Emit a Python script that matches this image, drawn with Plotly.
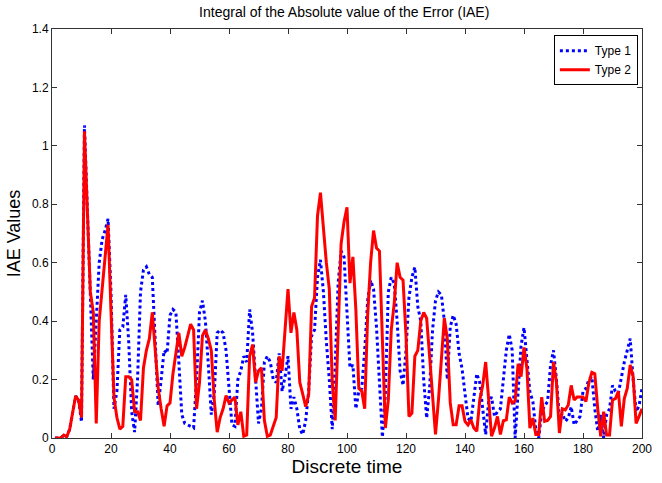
import plotly.graph_objects as go

# Discrete time instants and IAE values for the two controller types
time_steps = list(range(1, 201))

type1_iae = [
    0.0, 0.0, 0.0, 0.01, 0.005, 0.03, 0.09, 0.144, 0.13, 0.055,
    1.07, 0.8, 0.5, 0.2, 0.4, 0.6, 0.68, 0.71, 0.75, 0.5,
    0.1, 0.16, 0.37, 0.38, 0.49, 0.33, 0.09, 0.02, 0.2, 0.5,
    0.575, 0.586, 0.56, 0.55, 0.33, 0.11, 0.2, 0.3, 0.29, 0.42,
    0.44, 0.43, 0.26, 0.08, 0.05, 0.045, 0.04, 0.035, 0.2, 0.43,
    0.47, 0.4, 0.25, 0.08, 0.15, 0.36, 0.37, 0.36, 0.3, 0.17,
    0.045, 0.04, 0.2, 0.23, 0.28, 0.26, 0.44, 0.36, 0.2, 0.05,
    0.1, 0.26, 0.28, 0.26, 0.2, 0.19, 0.29, 0.16, 0.21, 0.28,
    0.1, 0.14, 0.1, 0.03, 0.012, 0.06, 0.16, 0.35, 0.37, 0.55,
    0.61, 0.5, 0.33, 0.2, 0.03, 0.25, 0.53, 0.64, 0.62, 0.45,
    0.24, 0.25, 0.1, 0.16, 0.17, 0.3, 0.47, 0.54, 0.51, 0.38,
    0.2, 0.003, 0.15, 0.5, 0.55, 0.53, 0.4, 0.23, 0.18, 0.3,
    0.48, 0.55, 0.585, 0.45, 0.4, 0.2, 0.068, 0.17, 0.37, 0.47,
    0.5, 0.49, 0.4, 0.2, 0.38, 0.42, 0.39, 0.29, 0.237, 0.158,
    0.068, 0.057, 0.13, 0.22, 0.19, 0.09, 0.012, 0.125, 0.14, 0.074,
    0.09, 0.1, 0.2, 0.3, 0.355, 0.3, 0.0, 0.17, 0.315, 0.378,
    0.28, 0.158, 0.125, 0.03, 0.0, 0.09, 0.11, 0.125, 0.25, 0.3,
    0.2, 0.068, 0.085, 0.057, 0.068, 0.107, 0.045, 0.06, 0.074, 0.16,
    0.17, 0.2, 0.21, 0.1, 0.023, 0.08, 0.0, 0.08, 0.1, 0.18,
    0.16, 0.153, 0.21, 0.26, 0.3, 0.34, 0.2, 0.09, 0.11, 0.17,
]

type2_iae = [
    0.0, 0.0, 0.0, 0.01, 0.005, 0.03, 0.09, 0.144, 0.13, 0.07,
    1.05, 0.78, 0.5, 0.43, 0.05, 0.4, 0.5, 0.62, 0.73, 0.4,
    0.14, 0.07, 0.03, 0.04, 0.21, 0.21, 0.2, 0.09, 0.09, 0.06,
    0.24, 0.3, 0.34, 0.43, 0.3, 0.17, 0.1, 0.04, 0.11, 0.12,
    0.22, 0.3, 0.36, 0.28, 0.31, 0.35, 0.39, 0.37, 0.1, 0.19,
    0.35, 0.37, 0.34, 0.3, 0.13, 0.02, 0.07, 0.1, 0.145, 0.12,
    0.13, 0.14, 0.045, 0.09, 0.006, 0.01, 0.28, 0.32, 0.19, 0.23,
    0.24, 0.06, 0.006, 0.01, 0.04, 0.07, 0.28, 0.23, 0.37, 0.51,
    0.36, 0.43, 0.37, 0.19, 0.15, 0.107, 0.147, 0.45, 0.48, 0.76,
    0.84, 0.71, 0.6, 0.51, 0.19, 0.06, 0.33, 0.665, 0.74, 0.79,
    0.53, 0.62, 0.44, 0.17, 0.16, 0.1, 0.42, 0.6, 0.71, 0.65,
    0.64, 0.37, 0.034, 0.13, 0.37, 0.46, 0.6, 0.55, 0.54, 0.35,
    0.074, 0.085, 0.28, 0.3, 0.4, 0.43, 0.41, 0.28, 0.15, 0.012,
    0.13, 0.28, 0.41, 0.34, 0.12, 0.045, 0.045, 0.11, 0.11, 0.057,
    0.045, 0.062, 0.034, 0.023, 0.13, 0.18, 0.26, 0.135, 0.006, 0.034,
    0.074, 0.012, 0.059, 0.062, 0.14, 0.12, 0.127, 0.254, 0.21, 0.31,
    0.237, 0.034, 0.068, 0.012, 0.012, 0.14, 0.057, 0.06, 0.074, 0.26,
    0.19, 0.017, 0.1, 0.096, 0.113, 0.18, 0.13, 0.14, 0.14, 0.14,
    0.125, 0.19, 0.225, 0.22, 0.1, 0.006, 0.09, 0.01, 0.01, 0.13,
    0.135, 0.16, 0.04, 0.135, 0.17, 0.25, 0.21, 0.05, 0.074, 0.10,
]

x_ticks = [0, 20, 40, 60, 80, 100, 120, 140, 160, 180, 200]
y_ticks = [0, 0.2, 0.4, 0.6, 0.8, 1.0, 1.2, 1.4]
y_tick_text = ["0", "0.2", "0.4", "0.6", "0.8", "1", "1.2", "1.4"]

FONT = "Liberation Sans, Arial, sans-serif"

fig = go.Figure()
fig.add_trace(go.Scatter(
    x=time_steps, y=type1_iae, mode="lines", name="Type 1",
    line=dict(color="#0000ff", width=3, dash="dot"),
))
fig.add_trace(go.Scatter(
    x=time_steps, y=type2_iae, mode="lines", name="Type 2",
    line=dict(color="#ff0000", width=3),
))

axis_common = dict(
    showgrid=False, zeroline=False, showline=True, linecolor="#333333",
    linewidth=1, mirror="ticks", ticks="inside", ticklen=5,
    tickcolor="#333333", tickfont=dict(family=FONT, size=12, color="black"),
)

fig.update_layout(
    width=662, height=483,
    margin=dict(l=52, r=10, t=29, b=40),
    paper_bgcolor="white", plot_bgcolor="white",
    title=dict(
        text="Integral of the Absolute value of the Error (IAE)",
        x=0.52, xanchor="center", y=0.985, yanchor="top",
        font=dict(family=FONT, size=14, color="black"),
    ),
    xaxis=dict(range=[0, 200], tickvals=x_ticks,
               title=dict(text="Discrete time", standoff=3,
                          font=dict(family=FONT, size=19, color="black")),
               **axis_common),
    yaxis=dict(range=[0, 1.4], tickvals=y_ticks, ticktext=y_tick_text,
               title=dict(text="IAE Values", standoff=6,
                          font=dict(family=FONT, size=18, color="black")),
               **axis_common),
    legend=dict(
        x=0.993, y=0.985, xanchor="right", yanchor="top",
        bgcolor="white", bordercolor="black", borderwidth=1,
        font=dict(family=FONT, size=12, color="black"),
        tracegroupgap=0, itemwidth=30,
    ),
    showlegend=True,
)

fig.write_html("out.html")
